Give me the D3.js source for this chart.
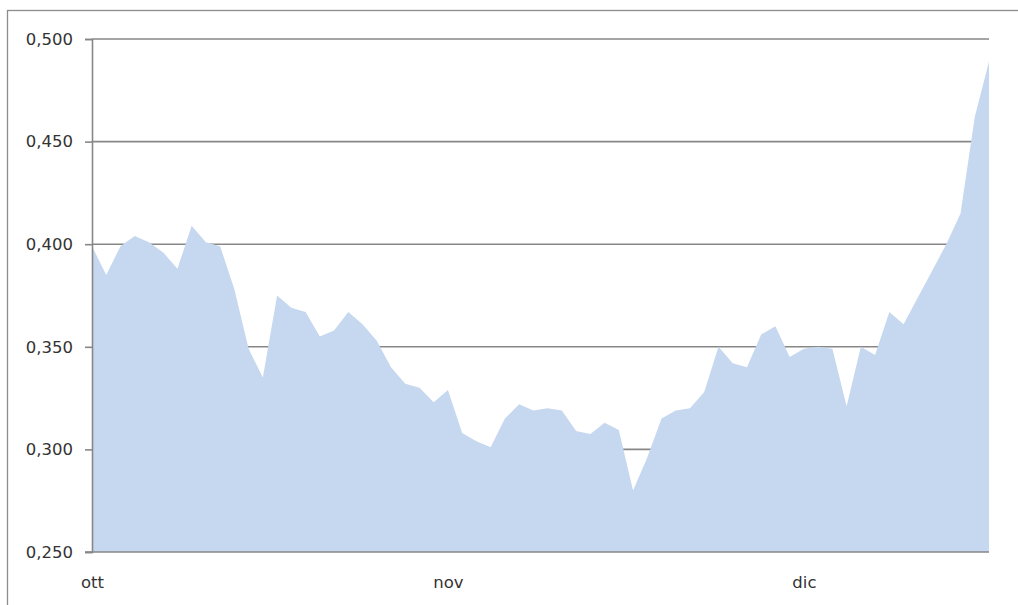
<!DOCTYPE html>
<html>
<head>
<meta charset="utf-8">
<script src="https://cdn.jsdelivr.net/npm/d3@7"></script>
<style>
  html, body { margin: 0; padding: 0; background: #ffffff; }
  svg { display: block; }
</style>
</head>
<body>
<svg id="chart" width="1018" height="605"></svg>
<script>
// ---- data ----
const values = [
  0.399, 0.385, 0.399, 0.404, 0.401, 0.396, 0.388, 0.409, 0.401, 0.399,
  0.378, 0.349, 0.335, 0.375, 0.369, 0.367, 0.355, 0.358, 0.367, 0.361,
  0.353, 0.340, 0.332, 0.330, 0.323, 0.329, 0.308, 0.304, 0.301, 0.315,
  0.322, 0.319, 0.320, 0.319, 0.309, 0.3075, 0.313, 0.3095, 0.280, 0.296,
  0.315, 0.319, 0.320, 0.328, 0.350, 0.342, 0.340, 0.356, 0.360, 0.345,
  0.349, 0.350, 0.349, 0.321, 0.350, 0.346, 0.367, 0.361, 0.374, 0.387,
  0.400, 0.415, 0.462, 0.489
];
const monthLabels = ["ott", "nov", "dic"];
const monthStartIndex = [0, 25, 50];
const yTicks = [0.25, 0.30, 0.35, 0.40, 0.45, 0.50];
const yDomain = [0.25, 0.50];

// ---- layout ----
const svg = d3.select("#chart");
const plotLeft = 92, plotRight = 989, plotTop = 39, plotBottom = 552;

const x = d3.scaleLinear().domain([0, values.length - 1]).range([plotLeft, plotRight]);
const y = d3.scaleLinear().domain(yDomain).range([plotBottom, plotTop]);

const itLocale = d3.formatLocale({ decimal: ",", thousands: ".", grouping: [3], currency: ["€", ""] });
const fmt = itLocale.format(".3f");

// outer border
svg.append("rect")
  .attr("x", 7.5).attr("y", 10.5)
  .attr("width", 1030).attr("height", 620)
  .attr("fill", "none").attr("stroke", "#8c8c8c").attr("stroke-width", 1.3);

// gridlines
svg.append("g")
  .selectAll("line")
  .data(yTicks.filter(d => d > yDomain[0]))
  .join("line")
  .attr("x1", plotLeft).attr("x2", plotRight)
  .attr("y1", d => y(d)).attr("y2", d => y(d))
  .attr("stroke", "#878787").attr("stroke-width", 1.6);

// area
const area = d3.area()
  .x((d, i) => x(i))
  .y0(y(yDomain[0]))
  .y1(d => y(d));

svg.append("path")
  .datum(values)
  .attr("d", area)
  .attr("fill", "#c6d8ef");

// y axis
const yAxis = d3.axisLeft(y)
  .tickValues(yTicks)
  .tickSize(7)
  .tickPadding(12)
  .tickFormat(fmt);

const gy = svg.append("g")
  .attr("transform", `translate(${plotLeft},0)`)
  .call(yAxis);
gy.select(".domain").attr("stroke", "#878787").attr("stroke-width", 1.6);
gy.selectAll(".tick line").attr("stroke", "#878787").attr("stroke-width", 1.6);
gy.selectAll(".tick text")
  .attr("fill", "#333333")
  .style("font-family", "DejaVu Sans, Verdana, sans-serif")
  .style("font-size", "16.5px");

// x axis baseline
svg.append("line")
  .attr("x1", plotLeft - 7).attr("x2", plotRight)
  .attr("y1", plotBottom).attr("y2", plotBottom)
  .attr("stroke", "#878787").attr("stroke-width", 1.6);

// x labels
const xAxis = d3.axisBottom(x)
  .tickValues(monthStartIndex)
  .tickSize(0)
  .tickPadding(24)
  .tickFormat((d, i) => monthLabels[i]);

const gx = svg.append("g")
  .attr("transform", `translate(0,${plotBottom})`)
  .call(xAxis);
gx.select(".domain").remove();
gx.selectAll(".tick text")
  .attr("fill", "#333333")
  .style("font-family", "DejaVu Sans, Verdana, sans-serif")
  .style("font-size", "16.5px");
</script>
</body>
</html>
